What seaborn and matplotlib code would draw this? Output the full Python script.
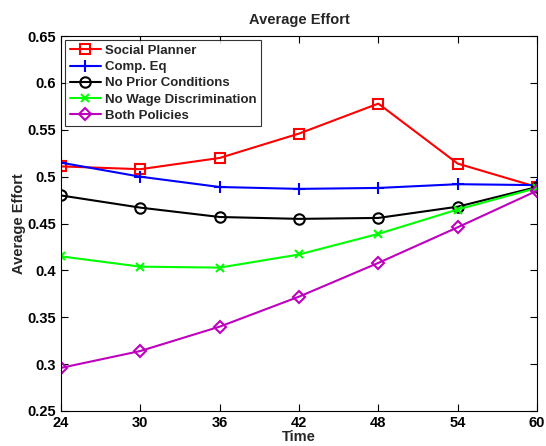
import pandas as pd
import matplotlib
matplotlib.use('Agg')
import matplotlib.pyplot as plt
import seaborn as sns

# Data
time = [24, 30, 36, 42, 48, 54, 60]
social_planner = [0.511, 0.508, 0.520, 0.546, 0.578, 0.514, 0.489]
comp_eq = [0.515, 0.500, 0.489, 0.487, 0.488, 0.492, 0.491]
no_prior = [0.480, 0.467, 0.457, 0.455, 0.456, 0.468, 0.489]
no_wage_disc = [0.415, 0.404, 0.403, 0.417, 0.439, 0.465, 0.488]
both_policies = [0.296, 0.314, 0.340, 0.372, 0.408, 0.446, 0.485]

series_names = ['Social Planner', 'Comp. Eq', 'No Prior Conditions',
                'No Wage Discrimination', 'Both Policies']
series_values = [social_planner, comp_eq, no_prior, no_wage_disc, both_policies]
colors = ['#ff0000', '#0000ff', '#000000', '#00ff00', '#bf00bf']
markers = ['s', '+', 'o', 'x', 'D']
marker_sizes = [6.5, 9, 7.5, 6, 6.5]

sns.set_style('white')
plt.rcParams['font.family'] = ['Liberation Sans', 'DejaVu Sans']
plt.rcParams['font.weight'] = 'bold'

fig = plt.figure(figsize=(5.46, 4.46), dpi=100)
ax = fig.add_axes([0.1117, 0.0785, 0.8718, 0.8405])

for name, vals, c, m, ms in zip(series_names, series_values, colors, markers, marker_sizes):
    df = pd.DataFrame({'Time': time, 'Average Effort': vals})
    sns.lineplot(data=df, x='Time', y='Average Effort', ax=ax, color=c,
                 marker=m, markersize=ms, markerfacecolor='none',
                 markeredgecolor=c, markeredgewidth=1.5, linewidth=1.5,
                 label=name)

ax.set_xlim(24, 60)
ax.set_ylim(0.25, 0.65)
ax.set_xticks(time)
ax.set_yticks([0.25, 0.3, 0.35, 0.4, 0.45, 0.5, 0.55, 0.6, 0.65])
ax.set_yticklabels(['0.25', '0.3', '0.35', '0.4', '0.45', '0.5', '0.55', '0.6', '0.65'])
ax.tick_params(direction='in', length=5, labelsize=10.5, width=0.8,
               top=True, right=True, bottom=True, left=True, colors='black')
for lbl in ax.get_xticklabels() + ax.get_yticklabels():
    lbl.set_fontweight('bold')
for s in ax.spines.values():
    s.set_color('black')
    s.set_linewidth(0.8)

ax.set_title('Average Effort', fontsize=10.5, fontweight='bold', pad=9)
ax.set_xlabel('Time', fontsize=10.5, fontweight='bold', labelpad=0)
ax.set_ylabel('Average Effort', fontsize=10.5, fontweight='bold', labelpad=1)

leg = ax.legend(loc='upper left', fontsize=9.5, frameon=True, fancybox=False,
                borderpad=0.35, labelspacing=0.3, handlelength=2.4,
                handletextpad=0.3, borderaxespad=0.3)
leg.get_frame().set_edgecolor('black')
leg.get_frame().set_linewidth(0.8)
for t in leg.get_texts():
    t.set_fontweight('bold')

fig.savefig('out.png', dpi=100)
